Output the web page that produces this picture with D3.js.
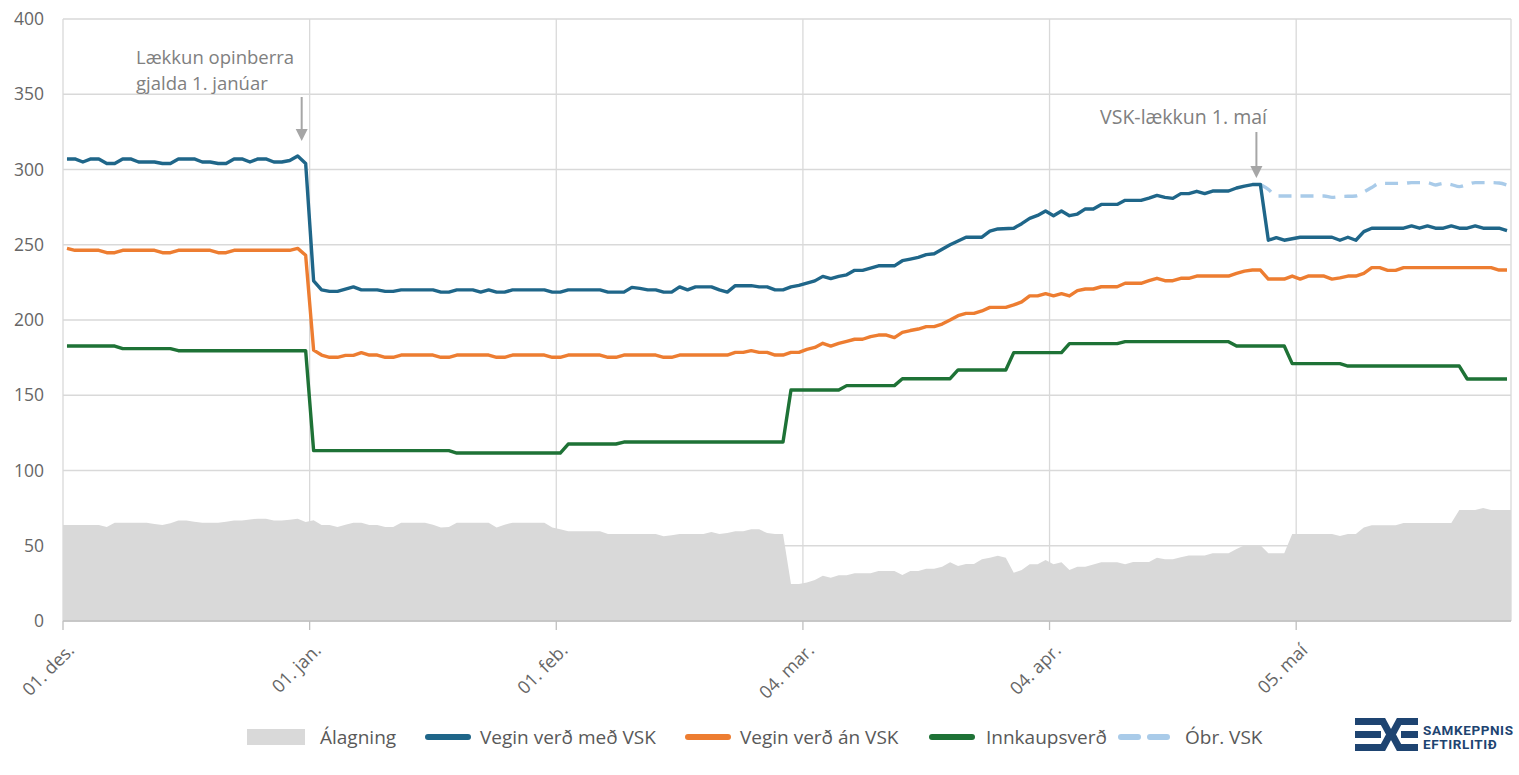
<!DOCTYPE html>
<html>
<head>
<meta charset="utf-8">
<script src="https://cdn.jsdelivr.net/npm/d3@7"></script>
<style>
  body { margin: 0; background: #fff; }
  svg { display: block; font-family: "Open Sans", sans-serif; }
</style>
</head>
<body>
<script>
const breidd = 1519;
const haed = 775;
const vinstri = 63, haegri = 1511, efst = 19, nedst = 621;

// Gildi lesin af myndinni: [dagsetning, kr.]
const alagning = [
  ["2024-12-01",63.8],["2024-12-05",63.8],["2024-12-06",62.5],["2024-12-07",65.3],["2024-12-11",65.3],["2024-12-12",64.5],["2024-12-13",63.8],["2024-12-14",65],["2024-12-15",66.7],["2024-12-16",66.7],["2024-12-17",66],["2024-12-18",65.3],["2024-12-20",65.3],["2024-12-21",66],["2024-12-22",66.7],["2024-12-23",66.7],["2024-12-24",67.5],["2024-12-25",68],["2024-12-26",68],["2024-12-27",66.7],["2024-12-28",66.7],["2024-12-29",67.3],["2024-12-30",68],["2024-12-31",65.8],
  ["2025-01-01",67],["2025-01-02",63.8],["2025-01-03",63.8],["2025-01-04",62.5],["2025-01-05",64],["2025-01-06",65.3],["2025-01-07",65.3],["2025-01-08",63.8],["2025-01-09",63.8],["2025-01-10",62.5],["2025-01-11",62.5],["2025-01-12",65.3],["2025-01-15",65.3],["2025-01-16",64],["2025-01-17",62.2],["2025-01-18",62.5],["2025-01-19",65.3],["2025-01-23",65.3],["2025-01-24",62.2],["2025-01-25",64],["2025-01-26",65.3],["2025-01-30",65.3],["2025-01-31",62.2],
  ["2025-02-01",61],["2025-02-02",59.6],["2025-02-06",59.6],["2025-02-07",57.8],["2025-02-13",57.8],["2025-02-14",56.3],["2025-02-15",57],["2025-02-16",57.8],["2025-02-19",57.8],["2025-02-20",59.1],["2025-02-21",57.8],["2025-02-22",58.5],["2025-02-23",59.6],["2025-02-24",59.6],["2025-02-25",60.9],["2025-02-26",60.9],["2025-02-27",58.5],["2025-02-28",57.8],
  ["2025-03-01",57.8],["2025-03-02",24.6],["2025-03-03",24.6],["2025-03-04",25.5],["2025-03-05",27.2],["2025-03-06",30.1],["2025-03-07",28.8],["2025-03-08",30.4],["2025-03-09",30.4],["2025-03-10",31.7],["2025-03-12",31.7],["2025-03-13",33.2],["2025-03-15",33.2],["2025-03-16",30.6],["2025-03-17",33.2],["2025-03-18",33.2],["2025-03-19",34.8],["2025-03-20",34.8],["2025-03-21",36.1],["2025-03-22",39],["2025-03-23",36.5],["2025-03-24",37.9],["2025-03-25",37.9],["2025-03-26",41],["2025-03-27",42],["2025-03-28",43.4],["2025-03-29",42],["2025-03-30",32.1],["2025-03-31",33.9],
  ["2025-04-01",37.7],["2025-04-02",37.7],["2025-04-03",40.5],["2025-04-04",37.7],["2025-04-05",39],["2025-04-06",33.9],["2025-04-07",36.1],["2025-04-08",36.1],["2025-04-09",37.5],["2025-04-10",39],["2025-04-12",39],["2025-04-13",37.7],["2025-04-14",39.2],["2025-04-16",39.2],["2025-04-17",42],["2025-04-18",41],["2025-04-19",41],["2025-04-20",42.3],["2025-04-21",43.6],["2025-04-23",43.6],["2025-04-24",45],["2025-04-26",45],["2025-04-27",47.8],["2025-04-28",50.3],["2025-04-30",50.3],
  ["2025-05-01",45],["2025-05-03",45],["2025-05-04",57.8],["2025-05-09",57.8],["2025-05-10",56.5],["2025-05-11",57.8],["2025-05-12",57.8],["2025-05-13",62.2],["2025-05-14",63.6],["2025-05-17",63.6],["2025-05-18",65.1],["2025-05-24",65.1],["2025-05-25",73.8],["2025-05-27",73.8],["2025-05-28",75.1],["2025-05-29",73.8],["2025-05-31",73.8]
];

const medVsk = [
  ["2024-12-01",307],["2024-12-02",307],["2024-12-03",305],["2024-12-04",307],["2024-12-05",307],["2024-12-06",304],["2024-12-07",304],["2024-12-08",307],["2024-12-09",307],["2024-12-10",305],["2024-12-12",305],["2024-12-13",304],["2024-12-14",304],["2024-12-15",307],["2024-12-17",307],["2024-12-18",305],["2024-12-19",305],["2024-12-20",304],["2024-12-21",304],["2024-12-22",307],["2024-12-23",307],["2024-12-24",305],["2024-12-25",307],["2024-12-26",307],["2024-12-27",305],["2024-12-28",305],["2024-12-29",306],["2024-12-30",309],["2024-12-31",304],
  ["2025-01-01",226],["2025-01-02",220],["2025-01-03",219],["2025-01-04",219],["2025-01-05",220.5],["2025-01-06",222],["2025-01-07",220],["2025-01-09",220],["2025-01-10",219],["2025-01-11",219],["2025-01-12",220],["2025-01-16",220],["2025-01-17",218.5],["2025-01-18",218.5],["2025-01-19",220],["2025-01-21",220],["2025-01-22",218.5],["2025-01-23",220],["2025-01-24",218.5],["2025-01-25",218.5],["2025-01-26",220],["2025-01-30",220],["2025-01-31",218.5],
  ["2025-02-01",218.5],["2025-02-02",220],["2025-02-06",220],["2025-02-07",218.5],["2025-02-09",218.5],["2025-02-10",221.7],["2025-02-11",221],["2025-02-12",220],["2025-02-13",220],["2025-02-14",218.5],["2025-02-15",218.5],["2025-02-16",222],["2025-02-17",220],["2025-02-18",222],["2025-02-20",222],["2025-02-21",220],["2025-02-22",218.5],["2025-02-23",222.8],["2025-02-25",222.8],["2025-02-26",222],["2025-02-27",222],["2025-02-28",220],
  ["2025-03-01",220],["2025-03-02",222],["2025-03-03",223],["2025-03-04",224.5],["2025-03-05",226],["2025-03-06",229],["2025-03-07",227.5],["2025-03-08",229],["2025-03-09",230],["2025-03-10",233],["2025-03-11",233],["2025-03-12",234.5],["2025-03-13",236],["2025-03-15",236],["2025-03-16",239.4],["2025-03-17",240.5],["2025-03-18",241.6],["2025-03-19",243.4],["2025-03-20",244],["2025-03-21",247],["2025-03-22",250],["2025-03-23",252.5],["2025-03-24",255],["2025-03-26",255],["2025-03-27",259],["2025-03-28",260.5],["2025-03-30",261],["2025-03-31",264],
  ["2025-04-01",267.5],["2025-04-02",269.5],["2025-04-03",272.4],["2025-04-04",269.3],["2025-04-05",272.4],["2025-04-06",269.3],["2025-04-07",270.4],["2025-04-08",273.8],["2025-04-09",273.8],["2025-04-10",276.8],["2025-04-12",276.8],["2025-04-13",279.5],["2025-04-15",279.5],["2025-04-16",281],["2025-04-17",282.8],["2025-04-18",281.5],["2025-04-19",280.8],["2025-04-20",284],["2025-04-21",284],["2025-04-22",285.5],["2025-04-23",284],["2025-04-24",285.7],["2025-04-26",285.7],["2025-04-27",287.7],["2025-04-28",289],["2025-04-29",290],["2025-04-30",290],
  ["2025-05-01",253],["2025-05-02",254.7],["2025-05-03",253],["2025-05-04",254],["2025-05-05",255],["2025-05-09",255],["2025-05-10",253],["2025-05-11",255],["2025-05-12",253],["2025-05-13",258.7],["2025-05-14",261],["2025-05-18",261],["2025-05-19",262.5],["2025-05-20",261],["2025-05-21",262.5],["2025-05-22",261],["2025-05-23",261],["2025-05-24",262.5],["2025-05-25",261],["2025-05-26",261],["2025-05-27",262.5],["2025-05-28",261],["2025-05-30",261],["2025-05-31",259.4]
];

const anVsk = [
  ["2024-12-01",247.6],["2024-12-02",246.3],["2024-12-05",246.3],["2024-12-06",244.7],["2024-12-07",244.7],["2024-12-08",246.3],["2024-12-12",246.3],["2024-12-13",244.7],["2024-12-14",244.7],["2024-12-15",246.3],["2024-12-19",246.3],["2024-12-20",244.7],["2024-12-21",244.7],["2024-12-22",246.3],["2024-12-29",246.3],["2024-12-30",247.6],["2024-12-31",243],
  ["2025-01-01",180],["2025-01-02",176.7],["2025-01-03",175.2],["2025-01-04",175.2],["2025-01-05",176.5],["2025-01-06",176.5],["2025-01-07",178.3],["2025-01-08",176.7],["2025-01-09",176.7],["2025-01-10",175.2],["2025-01-11",175.2],["2025-01-12",176.7],["2025-01-16",176.7],["2025-01-17",175.2],["2025-01-18",175.2],["2025-01-19",176.7],["2025-01-23",176.7],["2025-01-24",175.2],["2025-01-25",175.2],["2025-01-26",176.7],["2025-01-30",176.7],["2025-01-31",175.2],
  ["2025-02-01",175.2],["2025-02-02",176.7],["2025-02-06",176.7],["2025-02-07",175.2],["2025-02-08",175.2],["2025-02-09",176.7],["2025-02-13",176.7],["2025-02-14",175.2],["2025-02-15",175.2],["2025-02-16",176.7],["2025-02-22",176.7],["2025-02-23",178.5],["2025-02-24",178.5],["2025-02-25",179.6],["2025-02-26",178.5],["2025-02-27",178.5],["2025-02-28",176.7],
  ["2025-03-01",176.7],["2025-03-02",178.5],["2025-03-03",178.5],["2025-03-04",180.5],["2025-03-05",181.8],["2025-03-06",184.5],["2025-03-07",182.7],["2025-03-08",184.5],["2025-03-09",185.8],["2025-03-10",187.2],["2025-03-11",187.2],["2025-03-12",189],["2025-03-13",190],["2025-03-14",190],["2025-03-15",188.3],["2025-03-16",191.8],["2025-03-17",193],["2025-03-18",194],["2025-03-19",195.6],["2025-03-20",195.6],["2025-03-21",197.3],["2025-03-22",200],["2025-03-23",202.9],["2025-03-24",204.4],["2025-03-25",204.4],["2025-03-26",206],["2025-03-27",208.4],["2025-03-29",208.4],["2025-03-30",210],["2025-03-31",212],
  ["2025-04-01",216],["2025-04-02",216],["2025-04-03",217.5],["2025-04-04",216],["2025-04-05",217.5],["2025-04-06",216],["2025-04-07",219.5],["2025-04-08",220.6],["2025-04-09",220.6],["2025-04-10",222.1],["2025-04-12",222.1],["2025-04-13",224.4],["2025-04-15",224.4],["2025-04-16",226.1],["2025-04-17",227.7],["2025-04-18",226.1],["2025-04-19",226.1],["2025-04-20",227.7],["2025-04-21",227.7],["2025-04-22",229.2],["2025-04-26",229.2],["2025-04-27",231],["2025-04-28",232.5],["2025-04-29",233.2],["2025-04-30",233.2],
  ["2025-05-01",227.2],["2025-05-03",227.2],["2025-05-04",229.2],["2025-05-05",227.2],["2025-05-06",229.2],["2025-05-08",229.2],["2025-05-09",227.2],["2025-05-10",228],["2025-05-11",229.2],["2025-05-12",229.2],["2025-05-13",231],["2025-05-14",234.8],["2025-05-15",234.8],["2025-05-16",233],["2025-05-17",233],["2025-05-18",234.8],["2025-05-29",234.8],["2025-05-30",233.2],["2025-05-31",233.2]
];

const innkaup = [
  ["2024-12-01",182.7],["2024-12-07",182.7],["2024-12-08",181],["2024-12-14",181],["2024-12-15",179.6],["2024-12-31",179.6],
  ["2025-01-01",113.2],["2025-01-18",113.2],["2025-01-19",111.6],["2025-02-01",111.6],["2025-02-02",117.6],["2025-02-08",117.6],["2025-02-09",118.9],["2025-03-01",118.9],
  ["2025-03-02",153.5],["2025-03-08",153.5],["2025-03-09",156.4],["2025-03-15",156.4],["2025-03-16",161],["2025-03-22",161],["2025-03-23",166.8],["2025-03-29",166.8],["2025-03-30",178.3],["2025-04-05",178.3],
  ["2025-04-06",184.3],["2025-04-12",184.3],["2025-04-13",185.6],["2025-04-26",185.6],["2025-04-27",182.7],["2025-05-03",182.7],["2025-05-04",171],["2025-05-10",171],["2025-05-11",169.4],["2025-05-25",169.4],["2025-05-26",160.8],["2025-05-31",160.8]
];

const obrVsk = [
  ["2025-04-30",290],["2025-05-01",286.8],["2025-05-02",282.4],["2025-05-08",282.4],["2025-05-09",281.5],["2025-05-10",282],["2025-05-12",282.4],["2025-05-13",285],["2025-05-14",288],["2025-05-15",290.8],["2025-05-18",290.8],["2025-05-19",291.3],["2025-05-21",291.3],["2025-05-22",289.7],["2025-05-23",290.8],["2025-05-24",290],["2025-05-25",288.6],["2025-05-26",290],["2025-05-27",291.3],["2025-05-29",291.3],["2025-05-30",291],["2025-05-31",289.7]
];

const tikkDagar = ["2024-12-01", "2025-01-01", "2025-02-01", "2025-03-04", "2025-04-04", "2025-05-05"];
const tikkHeiti = ["01. des.", "01. jan.", "01. feb.", "04. mar.", "04. apr.", "05. maí"];
const skyringar = ["Álagning", "Vegin verð með VSK", "Vegin verð án VSK", "Innkaupsverð", "Óbr. VSK"];

const lesa = d3.utcParse("%Y-%m-%d");
const midjaDags = s => d3.utcHour.offset(lesa(s), 12);

const x = d3.scaleUtc()
  .domain([lesa("2024-12-01"), lesa("2025-06-01")])
  .range([vinstri, haegri]);

const y = d3.scaleLinear()
  .domain([0, 400])
  .range([nedst, efst]);

const svg = d3.select("body").append("svg")
  .attr("width", breidd)
  .attr("height", haed);

// Hnitanet
svg.append("g")
  .selectAll("line")
  .data(y.ticks(8))
  .join("line")
  .attr("x1", vinstri).attr("x2", haegri)
  .attr("y1", d => y(d)).attr("y2", d => y(d))
  .attr("stroke", "#d9d9d9")
  .attr("stroke-width", 1.3);

svg.append("g")
  .selectAll("line")
  .data(tikkDagar.concat(["2025-06-01"]))
  .join("line")
  .attr("x1", d => x(lesa(d))).attr("x2", d => x(lesa(d)))
  .attr("y1", efst).attr("y2", nedst)
  .attr("stroke", "#d9d9d9")
  .attr("stroke-width", 1.3);

// Álagning (svæði)
const svaedi = d3.area()
  .x((d, i, arr) => i === 0 ? vinstri : i === arr.length - 1 ? haegri : x(midjaDags(d[0])))
  .y0(y(0))
  .y1(d => y(d[1]));

svg.append("path")
  .datum(alagning)
  .attr("d", svaedi)
  .attr("fill", "#d9d9d9");

const lina = d3.line()
  .x(d => x(midjaDags(d[0])))
  .y(d => y(d[1]));

svg.append("path")
  .datum(obrVsk)
  .attr("d", lina.curve(d3.curveMonotoneX))
  .attr("fill", "none")
  .attr("stroke", "#a9cbe9")
  .attr("stroke-width", 3.4)
  .attr("stroke-dasharray", "13,9");

lina.curve(d3.curveLinear);

[[innkaup, "#1e7236"], [anVsk, "#ed7d31"], [medVsk, "#1f6689"]].forEach(([gogn, litur]) => {
  svg.append("path")
    .datum(gogn)
    .attr("d", lina)
    .attr("fill", "none")
    .attr("stroke", litur)
    .attr("stroke-width", 3.4)
    .attr("stroke-linejoin", "round");
});

// Ásar
svg.append("line")
  .attr("x1", vinstri).attr("x2", haegri)
  .attr("y1", nedst).attr("y2", nedst)
  .attr("stroke", "#bfbfbf")
  .attr("stroke-width", 1.5);

svg.append("g")
  .selectAll("line")
  .data(tikkDagar)
  .join("line")
  .attr("x1", d => x(lesa(d))).attr("x2", d => x(lesa(d)))
  .attr("y1", nedst).attr("y2", nedst + 9)
  .attr("stroke", "#bfbfbf")
  .attr("stroke-width", 1.3);

svg.append("g")
  .selectAll("text")
  .data(y.ticks(8))
  .join("text")
  .attr("x", 44)
  .attr("y", d => y(d))
  .attr("dy", "0.35em")
  .attr("text-anchor", "end")
  .attr("font-size", 17.5)
  .attr("fill", "#666")
  .text(d => d);

svg.append("g")
  .selectAll("text")
  .data(tikkDagar)
  .join("text")
  .attr("transform", d => `translate(${x(lesa(d)) + 8},${nedst + 26}) rotate(-45)`)
  .attr("dy", "0.35em")
  .attr("text-anchor", "end")
  .attr("font-size", 18)
  .attr("fill", "#666")
  .text((d, i) => tikkHeiti[i]);

// Athugasemdir
function or(xp, y1, y2) {
  svg.append("line")
    .attr("x1", xp).attr("x2", xp)
    .attr("y1", y1).attr("y2", y2 - 10)
    .attr("stroke", "#a6a6a6")
    .attr("stroke-width", 2);
  svg.append("polygon")
    .attr("points", [[xp - 6, y2 - 12], [xp + 6, y2 - 12], [xp, y2]].map(p => p.join(",")).join(" "))
    .attr("fill", "#a6a6a6");
}

svg.append("g")
  .attr("font-size", 18.5)
  .attr("fill", "#808080")
  .selectAll("text")
  .data(["Lækkun opinberra", "gjalda 1. janúar"])
  .join("text")
  .attr("x", 136)
  .attr("y", (d, i) => 64 + i * 25.5)
  .text(d => d);
or(x(lesa("2024-12-31")), 97, 141);

svg.append("text")
  .attr("x", 1267)
  .attr("y", 124)
  .attr("text-anchor", "end")
  .attr("font-size", 19.5)
  .attr("fill", "#808080")
  .text("VSK-lækkun 1. maí");
or(x(lesa("2025-04-30")), 132, 178);

// Skýringar
const skyr = svg.append("g").attr("font-size", 19).attr("fill", "#595959");
const lm = 737;

skyr.append("rect").attr("x", 247).attr("y", lm - 8).attr("width", 58).attr("height", 16).attr("fill", "#d9d9d9");
skyr.append("text").attr("x", 320).attr("y", lm).attr("dy", "0.35em").text(skyringar[0]);

[[428, "#1f6689", null, 480], [688, "#ed7d31", null, 740], [932, "#1e7236", null, 986], [1121, "#a9cbe9", "17,12", 1185]]
  .forEach(([lx, litur, strik, tx], i) => {
    skyr.append("line")
      .attr("x1", lx).attr("x2", lx + (strik ? 47 : 40))
      .attr("y1", lm).attr("y2", lm)
      .attr("stroke", litur)
      .attr("stroke-width", 6)
      .attr("stroke-linecap", "round")
      .attr("stroke-dasharray", strik);
    skyr.append("text").attr("x", tx).attr("y", lm).attr("dy", "0.35em").text(skyringar[i + 1]);
  });

// Merki Samkeppniseftirlitsins
const merki = svg.append("g").attr("fill", "none").attr("stroke", "#1e4471").attr("stroke-width", 7);
merki.append("path").attr("d", "M1355,721.5 H1383 L1390,734.5 L1383,747.5 H1355");
merki.append("path").attr("d", "M1355,734.5 H1381");
merki.append("path").attr("d", "M1418,721.5 H1399 L1392,734.5 L1399,747.5 H1418");
merki.append("path").attr("d", "M1401,734.5 H1418");

svg.append("g")
  .attr("font-family", "'Liberation Sans Narrow', 'Roboto', sans-serif")
  .attr("font-weight", "bold")
  .attr("font-size", 13.5)
  .attr("letter-spacing", 0.6)
  .attr("fill", "#1e4471")
  .selectAll("text")
  .data(["SAMKEPPNIS", "EFTIRLITIÐ"])
  .join("text")
  .attr("x", 1423)
  .attr("y", (d, i) => 735 + i * 14)
  .text(d => d);
</script>
</body>
</html>
